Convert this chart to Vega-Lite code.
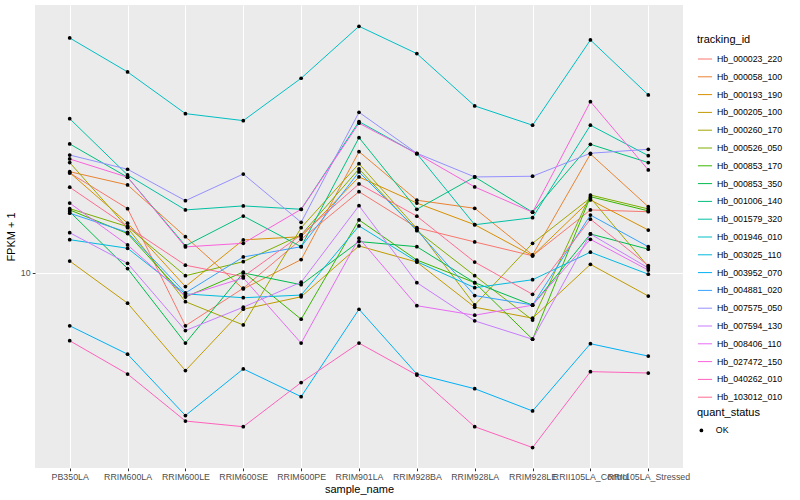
{
  "$schema": "https://vega.github.io/schema/vega-lite/v6.json",
  "width": 648,
  "height": 463,
  "padding": {"left": 5, "top": 5, "right": 5, "bottom": 5},
  "config": {
    "font": "Liberation Sans",
    "view": {"fill": "#EBEBEB", "stroke": null},
    "axis": {
      "domain": false,
      "gridColor": "#FFFFFF",
      "gridWidth": 1.07,
      "tickColor": "#333333",
      "tickSize": 2.75,
      "labelColor": "#4D4D4D",
      "labelFontSize": 8.8,
      "labelPadding": 2.2,
      "titleFontSize": 11,
      "titleFontWeight": "normal",
      "titleColor": "#000000"
    },
    "legend": {
      "titleFontSize": 11,
      "titleFontWeight": "normal",
      "titleColor": "#000000",
      "labelFontSize": 8.8,
      "labelColor": "#000000"
    }
  },
  "data": {
    "values": [
      {"tracking_id":"Hb_000023_220","sample_name":"PB350LA","fpkm":15.83,"quant_status":"OK"},
      {"tracking_id":"Hb_000023_220","sample_name":"RRIM600LA","fpkm":13.43,"quant_status":"OK"},
      {"tracking_id":"Hb_000023_220","sample_name":"RRIM600LE","fpkm":7.83,"quant_status":"OK"},
      {"tracking_id":"Hb_000023_220","sample_name":"RRIM600SE","fpkm":9.31,"quant_status":"OK"},
      {"tracking_id":"Hb_000023_220","sample_name":"RRIM600PE","fpkm":11.66,"quant_status":"OK"},
      {"tracking_id":"Hb_000023_220","sample_name":"RRIM901LA","fpkm":14.52,"quant_status":"OK"},
      {"tracking_id":"Hb_000023_220","sample_name":"RRIM928BA","fpkm":12.30,"quant_status":"OK"},
      {"tracking_id":"Hb_000023_220","sample_name":"RRIM928LA","fpkm":11.52,"quant_status":"OK"},
      {"tracking_id":"Hb_000023_220","sample_name":"RRIM928LE","fpkm":10.81,"quant_status":"OK"},
      {"tracking_id":"Hb_000023_220","sample_name":"RRII105LA_Control","fpkm":13.35,"quant_status":"OK"},
      {"tracking_id":"Hb_000023_220","sample_name":"RRII105LA_Stressed","fpkm":13.24,"quant_status":"OK"},

      {"tracking_id":"Hb_000058_100","sample_name":"PB350LA","fpkm":15.92,"quant_status":"OK"},
      {"tracking_id":"Hb_000058_100","sample_name":"RRIM600LA","fpkm":14.98,"quant_status":"OK"},
      {"tracking_id":"Hb_000058_100","sample_name":"RRIM600LE","fpkm":11.80,"quant_status":"OK"},
      {"tracking_id":"Hb_000058_100","sample_name":"RRIM600SE","fpkm":9.28,"quant_status":"OK"},
      {"tracking_id":"Hb_000058_100","sample_name":"RRIM600PE","fpkm":10.62,"quant_status":"OK"},
      {"tracking_id":"Hb_000058_100","sample_name":"RRIM901LA","fpkm":17.46,"quant_status":"OK"},
      {"tracking_id":"Hb_000058_100","sample_name":"RRIM928BA","fpkm":13.96,"quant_status":"OK"},
      {"tracking_id":"Hb_000058_100","sample_name":"RRIM928LA","fpkm":13.45,"quant_status":"OK"},
      {"tracking_id":"Hb_000058_100","sample_name":"RRIM928LE","fpkm":10.85,"quant_status":"OK"},
      {"tracking_id":"Hb_000058_100","sample_name":"RRII105LA_Control","fpkm":17.27,"quant_status":"OK"},
      {"tracking_id":"Hb_000058_100","sample_name":"RRII105LA_Stressed","fpkm":13.55,"quant_status":"OK"},

      {"tracking_id":"Hb_000193_190","sample_name":"PB350LA","fpkm":15.85,"quant_status":"OK"},
      {"tracking_id":"Hb_000193_190","sample_name":"RRIM600LA","fpkm":12.56,"quant_status":"OK"},
      {"tracking_id":"Hb_000193_190","sample_name":"RRIM600LE","fpkm":9.38,"quant_status":"OK"},
      {"tracking_id":"Hb_000193_190","sample_name":"RRIM600SE","fpkm":11.63,"quant_status":"OK"},
      {"tracking_id":"Hb_000193_190","sample_name":"RRIM600PE","fpkm":11.80,"quant_status":"OK"},
      {"tracking_id":"Hb_000193_190","sample_name":"RRIM901LA","fpkm":15.54,"quant_status":"OK"},
      {"tracking_id":"Hb_000193_190","sample_name":"RRIM928BA","fpkm":13.78,"quant_status":"OK"},
      {"tracking_id":"Hb_000193_190","sample_name":"RRIM928LA","fpkm":12.47,"quant_status":"OK"},
      {"tracking_id":"Hb_000193_190","sample_name":"RRIM928LE","fpkm":10.81,"quant_status":"OK"},
      {"tracking_id":"Hb_000193_190","sample_name":"RRII105LA_Control","fpkm":13.98,"quant_status":"OK"},
      {"tracking_id":"Hb_000193_190","sample_name":"RRII105LA_Stressed","fpkm":12.17,"quant_status":"OK"},

      {"tracking_id":"Hb_000205_100","sample_name":"PB350LA","fpkm":10.55,"quant_status":"OK"},
      {"tracking_id":"Hb_000205_100","sample_name":"RRIM600LA","fpkm":8.69,"quant_status":"OK"},
      {"tracking_id":"Hb_000205_100","sample_name":"RRIM600LE","fpkm":6.37,"quant_status":"OK"},
      {"tracking_id":"Hb_000205_100","sample_name":"RRIM600SE","fpkm":8.45,"quant_status":"OK"},
      {"tracking_id":"Hb_000205_100","sample_name":"RRIM600PE","fpkm":8.95,"quant_status":"OK"},
      {"tracking_id":"Hb_000205_100","sample_name":"RRIM901LA","fpkm":11.31,"quant_status":"OK"},
      {"tracking_id":"Hb_000205_100","sample_name":"RRIM928BA","fpkm":10.50,"quant_status":"OK"},
      {"tracking_id":"Hb_000205_100","sample_name":"RRIM928LA","fpkm":8.53,"quant_status":"OK"},
      {"tracking_id":"Hb_000205_100","sample_name":"RRIM928LE","fpkm":8.11,"quant_status":"OK"},
      {"tracking_id":"Hb_000205_100","sample_name":"RRII105LA_Control","fpkm":10.39,"quant_status":"OK"},
      {"tracking_id":"Hb_000205_100","sample_name":"RRII105LA_Stressed","fpkm":8.98,"quant_status":"OK"},

      {"tracking_id":"Hb_000260_170","sample_name":"PB350LA","fpkm":16.60,"quant_status":"OK"},
      {"tracking_id":"Hb_000260_170","sample_name":"RRIM600LA","fpkm":12.30,"quant_status":"OK"},
      {"tracking_id":"Hb_000260_170","sample_name":"RRIM600LE","fpkm":8.75,"quant_status":"OK"},
      {"tracking_id":"Hb_000260_170","sample_name":"RRIM600SE","fpkm":7.86,"quant_status":"OK"},
      {"tracking_id":"Hb_000260_170","sample_name":"RRIM600PE","fpkm":12.30,"quant_status":"OK"},
      {"tracking_id":"Hb_000260_170","sample_name":"RRIM901LA","fpkm":16.52,"quant_status":"OK"},
      {"tracking_id":"Hb_000260_170","sample_name":"RRIM928BA","fpkm":12.25,"quant_status":"OK"},
      {"tracking_id":"Hb_000260_170","sample_name":"RRIM928LA","fpkm":8.62,"quant_status":"OK"},
      {"tracking_id":"Hb_000260_170","sample_name":"RRIM928LE","fpkm":11.45,"quant_status":"OK"},
      {"tracking_id":"Hb_000260_170","sample_name":"RRII105LA_Control","fpkm":14.11,"quant_status":"OK"},
      {"tracking_id":"Hb_000260_170","sample_name":"RRII105LA_Stressed","fpkm":10.28,"quant_status":"OK"},

      {"tracking_id":"Hb_000526_050","sample_name":"PB350LA","fpkm":13.43,"quant_status":"OK"},
      {"tracking_id":"Hb_000526_050","sample_name":"RRIM600LA","fpkm":12.36,"quant_status":"OK"},
      {"tracking_id":"Hb_000526_050","sample_name":"RRIM600LE","fpkm":9.86,"quant_status":"OK"},
      {"tracking_id":"Hb_000526_050","sample_name":"RRIM600SE","fpkm":10.52,"quant_status":"OK"},
      {"tracking_id":"Hb_000526_050","sample_name":"RRIM600PE","fpkm":11.90,"quant_status":"OK"},
      {"tracking_id":"Hb_000526_050","sample_name":"RRIM901LA","fpkm":16.12,"quant_status":"OK"},
      {"tracking_id":"Hb_000526_050","sample_name":"RRIM928BA","fpkm":12.13,"quant_status":"OK"},
      {"tracking_id":"Hb_000526_050","sample_name":"RRIM928LA","fpkm":9.86,"quant_status":"OK"},
      {"tracking_id":"Hb_000526_050","sample_name":"RRIM928LE","fpkm":8.04,"quant_status":"OK"},
      {"tracking_id":"Hb_000526_050","sample_name":"RRII105LA_Control","fpkm":14.30,"quant_status":"OK"},
      {"tracking_id":"Hb_000526_050","sample_name":"RRII105LA_Stressed","fpkm":13.41,"quant_status":"OK"},

      {"tracking_id":"Hb_000853_170","sample_name":"PB350LA","fpkm":13.35,"quant_status":"OK"},
      {"tracking_id":"Hb_000853_170","sample_name":"RRIM600LA","fpkm":11.97,"quant_status":"OK"},
      {"tracking_id":"Hb_000853_170","sample_name":"RRIM600LE","fpkm":8.94,"quant_status":"OK"},
      {"tracking_id":"Hb_000853_170","sample_name":"RRIM600SE","fpkm":10.03,"quant_status":"OK"},
      {"tracking_id":"Hb_000853_170","sample_name":"RRIM600PE","fpkm":8.07,"quant_status":"OK"},
      {"tracking_id":"Hb_000853_170","sample_name":"RRIM901LA","fpkm":12.75,"quant_status":"OK"},
      {"tracking_id":"Hb_000853_170","sample_name":"RRIM928BA","fpkm":10.60,"quant_status":"OK"},
      {"tracking_id":"Hb_000853_170","sample_name":"RRIM928LA","fpkm":9.55,"quant_status":"OK"},
      {"tracking_id":"Hb_000853_170","sample_name":"RRIM928LE","fpkm":7.36,"quant_status":"OK"},
      {"tracking_id":"Hb_000853_170","sample_name":"RRII105LA_Control","fpkm":14.19,"quant_status":"OK"},
      {"tracking_id":"Hb_000853_170","sample_name":"RRII105LA_Stressed","fpkm":13.29,"quant_status":"OK"},

      {"tracking_id":"Hb_000853_350","sample_name":"PB350LA","fpkm":13.24,"quant_status":"OK"},
      {"tracking_id":"Hb_000853_350","sample_name":"RRIM600LA","fpkm":10.19,"quant_status":"OK"},
      {"tracking_id":"Hb_000853_350","sample_name":"RRIM600LE","fpkm":7.23,"quant_status":"OK"},
      {"tracking_id":"Hb_000853_350","sample_name":"RRIM600SE","fpkm":9.99,"quant_status":"OK"},
      {"tracking_id":"Hb_000853_350","sample_name":"RRIM600PE","fpkm":9.46,"quant_status":"OK"},
      {"tracking_id":"Hb_000853_350","sample_name":"RRIM901LA","fpkm":11.54,"quant_status":"OK"},
      {"tracking_id":"Hb_000853_350","sample_name":"RRIM928BA","fpkm":11.27,"quant_status":"OK"},
      {"tracking_id":"Hb_000853_350","sample_name":"RRIM928LA","fpkm":9.55,"quant_status":"OK"},
      {"tracking_id":"Hb_000853_350","sample_name":"RRIM928LE","fpkm":8.61,"quant_status":"OK"},
      {"tracking_id":"Hb_000853_350","sample_name":"RRII105LA_Control","fpkm":11.95,"quant_status":"OK"},
      {"tracking_id":"Hb_000853_350","sample_name":"RRII105LA_Stressed","fpkm":11.14,"quant_status":"OK"},

      {"tracking_id":"Hb_001006_140","sample_name":"PB350LA","fpkm":18.09,"quant_status":"OK"},
      {"tracking_id":"Hb_001006_140","sample_name":"RRIM600LA","fpkm":15.52,"quant_status":"OK"},
      {"tracking_id":"Hb_001006_140","sample_name":"RRIM600LE","fpkm":11.32,"quant_status":"OK"},
      {"tracking_id":"Hb_001006_140","sample_name":"RRIM600SE","fpkm":12.98,"quant_status":"OK"},
      {"tracking_id":"Hb_001006_140","sample_name":"RRIM600PE","fpkm":11.27,"quant_status":"OK"},
      {"tracking_id":"Hb_001006_140","sample_name":"RRIM901LA","fpkm":18.62,"quant_status":"OK"},
      {"tracking_id":"Hb_001006_140","sample_name":"RRIM928BA","fpkm":13.39,"quant_status":"OK"},
      {"tracking_id":"Hb_001006_140","sample_name":"RRIM928LA","fpkm":15.54,"quant_status":"OK"},
      {"tracking_id":"Hb_001006_140","sample_name":"RRIM928LE","fpkm":13.21,"quant_status":"OK"},
      {"tracking_id":"Hb_001006_140","sample_name":"RRII105LA_Control","fpkm":18.06,"quant_status":"OK"},
      {"tracking_id":"Hb_001006_140","sample_name":"RRII105LA_Stressed","fpkm":16.60,"quant_status":"OK"},

      {"tracking_id":"Hb_001579_320","sample_name":"PB350LA","fpkm":20.32,"quant_status":"OK"},
      {"tracking_id":"Hb_001579_320","sample_name":"RRIM600LA","fpkm":15.68,"quant_status":"OK"},
      {"tracking_id":"Hb_001579_320","sample_name":"RRIM600LE","fpkm":13.35,"quant_status":"OK"},
      {"tracking_id":"Hb_001579_320","sample_name":"RRIM600SE","fpkm":13.60,"quant_status":"OK"},
      {"tracking_id":"Hb_001579_320","sample_name":"RRIM600PE","fpkm":13.39,"quant_status":"OK"},
      {"tracking_id":"Hb_001579_320","sample_name":"RRIM901LA","fpkm":20.05,"quant_status":"OK"},
      {"tracking_id":"Hb_001579_320","sample_name":"RRIM928BA","fpkm":17.30,"quant_status":"OK"},
      {"tracking_id":"Hb_001579_320","sample_name":"RRIM928LA","fpkm":12.47,"quant_status":"OK"},
      {"tracking_id":"Hb_001579_320","sample_name":"RRIM928LE","fpkm":12.88,"quant_status":"OK"},
      {"tracking_id":"Hb_001579_320","sample_name":"RRII105LA_Control","fpkm":19.72,"quant_status":"OK"},
      {"tracking_id":"Hb_001579_320","sample_name":"RRII105LA_Stressed","fpkm":17.14,"quant_status":"OK"},

      {"tracking_id":"Hb_001946_010","sample_name":"PB350LA","fpkm":29.47,"quant_status":"OK"},
      {"tracking_id":"Hb_001946_010","sample_name":"RRIM600LA","fpkm":25.20,"quant_status":"OK"},
      {"tracking_id":"Hb_001946_010","sample_name":"RRIM600LE","fpkm":20.80,"quant_status":"OK"},
      {"tracking_id":"Hb_001946_010","sample_name":"RRIM600SE","fpkm":20.14,"quant_status":"OK"},
      {"tracking_id":"Hb_001946_010","sample_name":"RRIM600PE","fpkm":24.48,"quant_status":"OK"},
      {"tracking_id":"Hb_001946_010","sample_name":"RRIM901LA","fpkm":31.10,"quant_status":"OK"},
      {"tracking_id":"Hb_001946_010","sample_name":"RRIM928BA","fpkm":27.42,"quant_status":"OK"},
      {"tracking_id":"Hb_001946_010","sample_name":"RRIM928LA","fpkm":21.55,"quant_status":"OK"},
      {"tracking_id":"Hb_001946_010","sample_name":"RRIM928LE","fpkm":19.72,"quant_status":"OK"},
      {"tracking_id":"Hb_001946_010","sample_name":"RRII105LA_Control","fpkm":29.20,"quant_status":"OK"},
      {"tracking_id":"Hb_001946_010","sample_name":"RRII105LA_Stressed","fpkm":22.67,"quant_status":"OK"},

      {"tracking_id":"Hb_003025_110","sample_name":"PB350LA","fpkm":11.64,"quant_status":"OK"},
      {"tracking_id":"Hb_003025_110","sample_name":"RRIM600LA","fpkm":11.19,"quant_status":"OK"},
      {"tracking_id":"Hb_003025_110","sample_name":"RRIM600LE","fpkm":9.07,"quant_status":"OK"},
      {"tracking_id":"Hb_003025_110","sample_name":"RRIM600SE","fpkm":8.91,"quant_status":"OK"},
      {"tracking_id":"Hb_003025_110","sample_name":"RRIM600PE","fpkm":9.02,"quant_status":"OK"},
      {"tracking_id":"Hb_003025_110","sample_name":"RRIM901LA","fpkm":12.40,"quant_status":"OK"},
      {"tracking_id":"Hb_003025_110","sample_name":"RRIM928BA","fpkm":10.52,"quant_status":"OK"},
      {"tracking_id":"Hb_003025_110","sample_name":"RRIM928LA","fpkm":9.33,"quant_status":"OK"},
      {"tracking_id":"Hb_003025_110","sample_name":"RRIM928LE","fpkm":9.68,"quant_status":"OK"},
      {"tracking_id":"Hb_003025_110","sample_name":"RRII105LA_Control","fpkm":10.99,"quant_status":"OK"},
      {"tracking_id":"Hb_003025_110","sample_name":"RRII105LA_Stressed","fpkm":9.93,"quant_status":"OK"},

      {"tracking_id":"Hb_003952_070","sample_name":"PB350LA","fpkm":7.83,"quant_status":"OK"},
      {"tracking_id":"Hb_003952_070","sample_name":"RRIM600LA","fpkm":6.87,"quant_status":"OK"},
      {"tracking_id":"Hb_003952_070","sample_name":"RRIM600LE","fpkm":5.18,"quant_status":"OK"},
      {"tracking_id":"Hb_003952_070","sample_name":"RRIM600SE","fpkm":6.42,"quant_status":"OK"},
      {"tracking_id":"Hb_003952_070","sample_name":"RRIM600PE","fpkm":5.65,"quant_status":"OK"},
      {"tracking_id":"Hb_003952_070","sample_name":"RRIM901LA","fpkm":8.45,"quant_status":"OK"},
      {"tracking_id":"Hb_003952_070","sample_name":"RRIM928BA","fpkm":6.27,"quant_status":"OK"},
      {"tracking_id":"Hb_003952_070","sample_name":"RRIM928LA","fpkm":5.86,"quant_status":"OK"},
      {"tracking_id":"Hb_003952_070","sample_name":"RRIM928LE","fpkm":5.29,"quant_status":"OK"},
      {"tracking_id":"Hb_003952_070","sample_name":"RRII105LA_Control","fpkm":7.21,"quant_status":"OK"},
      {"tracking_id":"Hb_003952_070","sample_name":"RRII105LA_Stressed","fpkm":6.81,"quant_status":"OK"},

      {"tracking_id":"Hb_004881_020","sample_name":"PB350LA","fpkm":13.15,"quant_status":"OK"},
      {"tracking_id":"Hb_004881_020","sample_name":"RRIM600LA","fpkm":12.04,"quant_status":"OK"},
      {"tracking_id":"Hb_004881_020","sample_name":"RRIM600LE","fpkm":9.11,"quant_status":"OK"},
      {"tracking_id":"Hb_004881_020","sample_name":"RRIM600SE","fpkm":10.75,"quant_status":"OK"},
      {"tracking_id":"Hb_004881_020","sample_name":"RRIM600PE","fpkm":11.27,"quant_status":"OK"},
      {"tracking_id":"Hb_004881_020","sample_name":"RRIM901LA","fpkm":15.90,"quant_status":"OK"},
      {"tracking_id":"Hb_004881_020","sample_name":"RRIM928BA","fpkm":12.17,"quant_status":"OK"},
      {"tracking_id":"Hb_004881_020","sample_name":"RRIM928LA","fpkm":9.00,"quant_status":"OK"},
      {"tracking_id":"Hb_004881_020","sample_name":"RRIM928LE","fpkm":8.62,"quant_status":"OK"},
      {"tracking_id":"Hb_004881_020","sample_name":"RRII105LA_Control","fpkm":13.04,"quant_status":"OK"},
      {"tracking_id":"Hb_004881_020","sample_name":"RRII105LA_Stressed","fpkm":11.27,"quant_status":"OK"},

      {"tracking_id":"Hb_007575_050","sample_name":"PB350LA","fpkm":17.19,"quant_status":"OK"},
      {"tracking_id":"Hb_007575_050","sample_name":"RRIM600LA","fpkm":16.10,"quant_status":"OK"},
      {"tracking_id":"Hb_007575_050","sample_name":"RRIM600LE","fpkm":13.93,"quant_status":"OK"},
      {"tracking_id":"Hb_007575_050","sample_name":"RRIM600SE","fpkm":15.75,"quant_status":"OK"},
      {"tracking_id":"Hb_007575_050","sample_name":"RRIM600PE","fpkm":12.61,"quant_status":"OK"},
      {"tracking_id":"Hb_007575_050","sample_name":"RRIM901LA","fpkm":20.93,"quant_status":"OK"},
      {"tracking_id":"Hb_007575_050","sample_name":"RRIM928BA","fpkm":17.33,"quant_status":"OK"},
      {"tracking_id":"Hb_007575_050","sample_name":"RRIM928LA","fpkm":15.54,"quant_status":"OK"},
      {"tracking_id":"Hb_007575_050","sample_name":"RRIM928LE","fpkm":15.59,"quant_status":"OK"},
      {"tracking_id":"Hb_007575_050","sample_name":"RRII105LA_Control","fpkm":17.33,"quant_status":"OK"},
      {"tracking_id":"Hb_007575_050","sample_name":"RRII105LA_Stressed","fpkm":17.65,"quant_status":"OK"},

      {"tracking_id":"Hb_007594_130","sample_name":"PB350LA","fpkm":12.02,"quant_status":"OK"},
      {"tracking_id":"Hb_007594_130","sample_name":"RRIM600LA","fpkm":10.44,"quant_status":"OK"},
      {"tracking_id":"Hb_007594_130","sample_name":"RRIM600LE","fpkm":7.66,"quant_status":"OK"},
      {"tracking_id":"Hb_007594_130","sample_name":"RRIM600SE","fpkm":8.53,"quant_status":"OK"},
      {"tracking_id":"Hb_007594_130","sample_name":"RRIM600PE","fpkm":9.57,"quant_status":"OK"},
      {"tracking_id":"Hb_007594_130","sample_name":"RRIM901LA","fpkm":13.61,"quant_status":"OK"},
      {"tracking_id":"Hb_007594_130","sample_name":"RRIM928BA","fpkm":9.55,"quant_status":"OK"},
      {"tracking_id":"Hb_007594_130","sample_name":"RRIM928LA","fpkm":8.01,"quant_status":"OK"},
      {"tracking_id":"Hb_007594_130","sample_name":"RRIM928LE","fpkm":7.36,"quant_status":"OK"},
      {"tracking_id":"Hb_007594_130","sample_name":"RRII105LA_Control","fpkm":11.95,"quant_status":"OK"},
      {"tracking_id":"Hb_007594_130","sample_name":"RRII105LA_Stressed","fpkm":10.22,"quant_status":"OK"},

      {"tracking_id":"Hb_008406_110","sample_name":"PB350LA","fpkm":13.78,"quant_status":"OK"},
      {"tracking_id":"Hb_008406_110","sample_name":"RRIM600LA","fpkm":11.36,"quant_status":"OK"},
      {"tracking_id":"Hb_008406_110","sample_name":"RRIM600LE","fpkm":8.98,"quant_status":"OK"},
      {"tracking_id":"Hb_008406_110","sample_name":"RRIM600SE","fpkm":9.76,"quant_status":"OK"},
      {"tracking_id":"Hb_008406_110","sample_name":"RRIM600PE","fpkm":7.23,"quant_status":"OK"},
      {"tracking_id":"Hb_008406_110","sample_name":"RRIM901LA","fpkm":11.72,"quant_status":"OK"},
      {"tracking_id":"Hb_008406_110","sample_name":"RRIM928BA","fpkm":8.59,"quant_status":"OK"},
      {"tracking_id":"Hb_008406_110","sample_name":"RRIM928LA","fpkm":8.22,"quant_status":"OK"},
      {"tracking_id":"Hb_008406_110","sample_name":"RRIM928LE","fpkm":8.61,"quant_status":"OK"},
      {"tracking_id":"Hb_008406_110","sample_name":"RRII105LA_Control","fpkm":11.66,"quant_status":"OK"},
      {"tracking_id":"Hb_008406_110","sample_name":"RRII105LA_Stressed","fpkm":10.12,"quant_status":"OK"},

      {"tracking_id":"Hb_027472_150","sample_name":"PB350LA","fpkm":16.88,"quant_status":"OK"},
      {"tracking_id":"Hb_027472_150","sample_name":"RRIM600LA","fpkm":15.52,"quant_status":"OK"},
      {"tracking_id":"Hb_027472_150","sample_name":"RRIM600LE","fpkm":11.26,"quant_status":"OK"},
      {"tracking_id":"Hb_027472_150","sample_name":"RRIM600SE","fpkm":11.45,"quant_status":"OK"},
      {"tracking_id":"Hb_027472_150","sample_name":"RRIM600PE","fpkm":13.39,"quant_status":"OK"},
      {"tracking_id":"Hb_027472_150","sample_name":"RRIM901LA","fpkm":19.90,"quant_status":"OK"},
      {"tracking_id":"Hb_027472_150","sample_name":"RRIM928BA","fpkm":17.30,"quant_status":"OK"},
      {"tracking_id":"Hb_027472_150","sample_name":"RRIM928LA","fpkm":14.84,"quant_status":"OK"},
      {"tracking_id":"Hb_027472_150","sample_name":"RRIM928LE","fpkm":13.21,"quant_status":"OK"},
      {"tracking_id":"Hb_027472_150","sample_name":"RRII105LA_Control","fpkm":21.98,"quant_status":"OK"},
      {"tracking_id":"Hb_027472_150","sample_name":"RRII105LA_Stressed","fpkm":16.05,"quant_status":"OK"},

      {"tracking_id":"Hb_040262_010","sample_name":"PB350LA","fpkm":7.31,"quant_status":"OK"},
      {"tracking_id":"Hb_040262_010","sample_name":"RRIM600LA","fpkm":6.27,"quant_status":"OK"},
      {"tracking_id":"Hb_040262_010","sample_name":"RRIM600LE","fpkm":5.05,"quant_status":"OK"},
      {"tracking_id":"Hb_040262_010","sample_name":"RRIM600SE","fpkm":4.92,"quant_status":"OK"},
      {"tracking_id":"Hb_040262_010","sample_name":"RRIM600PE","fpkm":6.03,"quant_status":"OK"},
      {"tracking_id":"Hb_040262_010","sample_name":"RRIM901LA","fpkm":7.23,"quant_status":"OK"},
      {"tracking_id":"Hb_040262_010","sample_name":"RRIM928BA","fpkm":6.24,"quant_status":"OK"},
      {"tracking_id":"Hb_040262_010","sample_name":"RRIM928LA","fpkm":4.92,"quant_status":"OK"},
      {"tracking_id":"Hb_040262_010","sample_name":"RRIM928LE","fpkm":4.47,"quant_status":"OK"},
      {"tracking_id":"Hb_040262_010","sample_name":"RRII105LA_Control","fpkm":6.34,"quant_status":"OK"},
      {"tracking_id":"Hb_040262_010","sample_name":"RRII105LA_Stressed","fpkm":6.30,"quant_status":"OK"},

      {"tracking_id":"Hb_103012_010","sample_name":"PB350LA","fpkm":14.82,"quant_status":"OK"},
      {"tracking_id":"Hb_103012_010","sample_name":"RRIM600LA","fpkm":12.36,"quant_status":"OK"},
      {"tracking_id":"Hb_103012_010","sample_name":"RRIM600LE","fpkm":10.35,"quant_status":"OK"},
      {"tracking_id":"Hb_103012_010","sample_name":"RRIM600SE","fpkm":9.82,"quant_status":"OK"},
      {"tracking_id":"Hb_103012_010","sample_name":"RRIM600PE","fpkm":11.90,"quant_status":"OK"},
      {"tracking_id":"Hb_103012_010","sample_name":"RRIM901LA","fpkm":15.05,"quant_status":"OK"},
      {"tracking_id":"Hb_103012_010","sample_name":"RRIM928BA","fpkm":12.97,"quant_status":"OK"},
      {"tracking_id":"Hb_103012_010","sample_name":"RRIM928LA","fpkm":10.50,"quant_status":"OK"},
      {"tracking_id":"Hb_103012_010","sample_name":"RRIM928LE","fpkm":9.05,"quant_status":"OK"},
      {"tracking_id":"Hb_103012_010","sample_name":"RRII105LA_Control","fpkm":12.79,"quant_status":"OK"},
      {"tracking_id":"Hb_103012_010","sample_name":"RRII105LA_Stressed","fpkm":10.33,"quant_status":"OK"}
    ]
  },
  "encoding": {
    "x": {
      "field": "sample_name",
      "type": "nominal",
      "title": "sample_name",
      "sort": ["PB350LA","RRIM600LA","RRIM600LE","RRIM600SE","RRIM600PE","RRIM901LA","RRIM928BA","RRIM928LA","RRIM928LE","RRII105LA_Control","RRII105LA_Stressed"],
      "scale": {"type": "point", "padding": 0.6},
      "axis": {"labelAngle": 0, "grid": true, "titlePadding": 2, "labelOverlap": false}
    },
    "y": {
      "field": "fpkm",
      "type": "quantitative",
      "title": "FPKM + 1",
      "scale": {"type": "log", "domain": [4.068, 34.3], "nice": false, "zero": false},
      "axis": {"values": [10], "format": "d", "grid": true, "titlePadding": 4}
    }
  },
  "layer": [
    {
      "mark": {"type": "line", "strokeWidth": 1},
      "encoding": {
        "color": {
          "field": "tracking_id",
          "type": "nominal",
          "title": "tracking_id",
          "scale": {
            "domain": ["Hb_000023_220","Hb_000058_100","Hb_000193_190","Hb_000205_100","Hb_000260_170","Hb_000526_050","Hb_000853_170","Hb_000853_350","Hb_001006_140","Hb_001579_320","Hb_001946_010","Hb_003025_110","Hb_003952_070","Hb_004881_020","Hb_007575_050","Hb_007594_130","Hb_008406_110","Hb_027472_150","Hb_040262_010","Hb_103012_010"],
            "range": ["#F8766D","#EA8331","#D89000","#C09B00","#A3A500","#7CAE00","#39B600","#00BB4E","#00BF7D","#00C1A3","#00BFC4","#00BAE0","#00B0F6","#35A2FF","#9590FF","#C77CFF","#E76BF3","#FA62DB","#FF62BC","#FF6C91"]
          },
          "legend": {
            "orient": "none",
            "legendX": 662,
            "legendY": 29,
            "symbolType": "stroke",
            "symbolSize": 200,
            "symbolStrokeWidth": 1,
            "rowPadding": 4.8,
            "labelOffset": 4,
            "titlePadding": 6
          }
        }
      }
    },
    {
      "mark": {"type": "point", "filled": true, "size": 14, "color": "#000000", "opacity": 1},
      "encoding": {
        "shape": {
          "field": "quant_status",
          "type": "nominal",
          "title": "quant_status",
          "scale": {"domain": ["OK"], "range": ["circle"]},
          "legend": {
            "orient": "none",
            "legendX": 662,
            "legendY": 402,
            "symbolFillColor": "#000000",
            "symbolStrokeColor": "#000000",
            "symbolSize": 14,
            "labelOffset": 10,
            "titlePadding": 8
          }
        }
      }
    }
  ]
}
